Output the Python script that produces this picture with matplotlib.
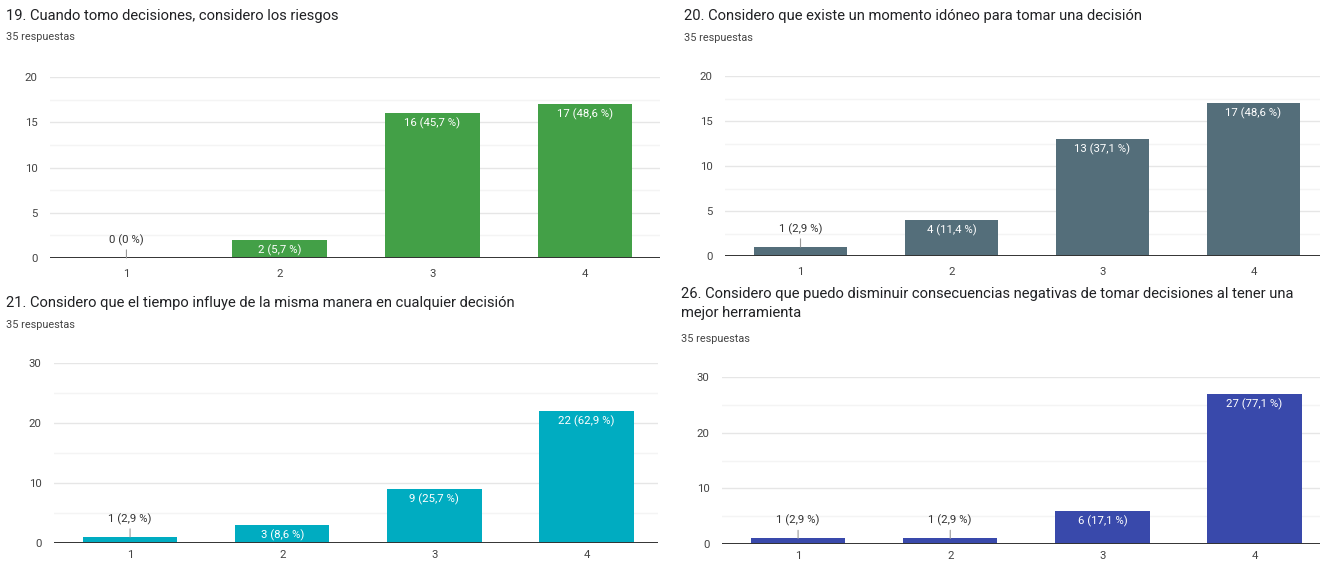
import numpy as np
import matplotlib
matplotlib.use('Agg')
import matplotlib.pyplot as plt
from matplotlib.ticker import MultipleLocator

plt.rcParams['font.family'] = ['Roboto', 'DejaVu Sans']

# Survey answers (35 respondents, scale 1-4)
categories = ['1', '2', '3', '4']
total = 35

titles = [
    '19. Cuando tomo decisiones, considero los riesgos',
    '20. Considero que existe un momento idóneo para tomar una decisión',
    '21. Considero que el tiempo influye de la misma manera en cualquier decisión',
    '26. Considero que puedo disminuir consecuencias negativas de tomar decisiones al tener una\nmejor herramienta',
]
counts_19 = [0, 2, 16, 17]
counts_20 = [1, 4, 13, 17]
counts_21 = [1, 3, 9, 22]
counts_26 = [1, 1, 6, 27]
colors = ['#43a047', '#546e7a', '#00acc1', '#3949ab']
y_max = [20, 20, 30, 30]

W, H = 1325, 561
fig = plt.figure(figsize=(W / 100, H / 100), dpi=100)
fig.patch.set_facecolor('white')


def add_ax(l, t, r, b):
    return fig.add_axes([l / W, 1 - b / H, (r - l) / W, (b - t) / H])


def fig_text(x, y, s, **kw):
    fig.text(x / W, 1 - y / H, s, va='center', ha='left', **kw)


def pct_label(n):
    p = n / total * 100
    if n == 0:
        return '0 (0 %)'
    return f'{n} ({p:.1f} %)'.replace('.', ',')


def bar_panel(ax, counts, color, ymax, xmax, xpad=8):
    x = np.arange(1, len(categories) + 1)
    ax.bar(x, counts, width=0.62, color=color, zorder=3)
    ax.set_xlim(0.5, xmax)
    ax.set_ylim(0, ymax)
    ax.yaxis.set_major_locator(MultipleLocator(5 if ymax == 20 else 10))
    ax.yaxis.set_minor_locator(MultipleLocator(2.5 if ymax == 20 else 5))
    ax.grid(axis='y', which='major', color='#e6e6e6', lw=1.0, zorder=0)
    ax.grid(axis='y', which='minor', color='#f4f4f4', lw=1.0, zorder=0)
    ax.axhline(0, color='#333333', lw=1.4, zorder=4)
    for s in ax.spines.values():
        s.set_visible(False)
    ax.set_xticks(x)
    ax.set_xticklabels(categories)
    ax.tick_params(axis='both', length=0, labelsize=8.2, colors='#444444')
    ax.tick_params(axis='x', pad=xpad)
    ax.tick_params(axis='y', pad=9)
    ax.tick_params(axis='y', which='minor', length=0)
    for xi, n in zip(x, counts):
        label = pct_label(n)
        if n / ymax >= 0.08:
            ax.annotate(label, xy=(xi, n), xytext=(0, -7.5), textcoords='offset points',
                        ha='center', va='center', fontsize=8.2, color='white', zorder=5)
        else:
            ax.annotate(label, xy=(xi, n), xytext=(0, 13), textcoords='offset points',
                        ha='center', va='center', fontsize=8.2, color='#333333', zorder=5,
                        arrowprops=dict(arrowstyle='-', color='#999999', lw=0.8,
                                        shrinkA=1, shrinkB=0))


# Panel placement (pixels: left, top, right, bottom)
ax1 = add_ax(50, 77, 660, 258)
ax2 = add_ax(725, 76, 1320, 256)
ax3 = add_ax(54, 363, 658, 543)
ax4 = add_ax(722, 377, 1320, 544)

bar_panel(ax1, counts_19, colors[0], y_max[0], 4.49)
bar_panel(ax2, counts_20, colors[1], y_max[1], 4.44)
bar_panel(ax3, counts_21, colors[2], y_max[2], 4.47, xpad=5)
bar_panel(ax4, counts_26, colors[3], y_max[3], 4.43, xpad=5)

# Headers
title_kw = dict(fontsize=10.6, color='#202124')
sub_kw = dict(fontsize=7.8, color='#444444')
fig_text(6, 16, titles[0], **title_kw)
fig_text(6, 37, '35 respuestas', **sub_kw)
fig_text(684, 16, titles[1], **title_kw)
fig_text(684, 38, '35 respuestas', **sub_kw)
fig_text(6, 303, titles[2], **title_kw)
fig_text(6, 325, '35 respuestas', **sub_kw)
fig.text(681 / W, 1 - 287 / H, titles[3], va='top', ha='left', linespacing=1.5, **title_kw)
fig_text(681, 339, '35 respuestas', **sub_kw)

fig.savefig('out.png', dpi=100, facecolor='white')
